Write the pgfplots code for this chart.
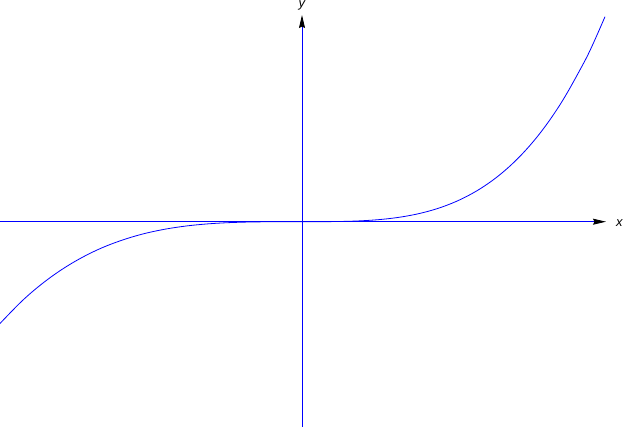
\documentclass[border=0pt]{standalone}
\usepackage{fontspec}
\setmainfont{Liberation Sans}
\usepackage{pgfplots}
\pgfplotsset{compat=1.18}
\usetikzlibrary{arrows.meta}
\begin{document}
\begin{tikzpicture}
\path[use as bounding box] (-302bp,-205.3bp) rectangle (322bp,221.7bp);
\begin{axis}[
  anchor=origin, at={(0,0)},
  x=100bp, y=100bp,
  xmin=-3.02, xmax=3.04, ymin=-2.053, ymax=2.067,
  axis lines=middle,
  xtick=\empty, ytick=\empty,
  axis line style={blue, line width=0.9bp},
  x axis line style={-{Stealth[length=13bp,width=6bp,inset=1.5bp,color=black]}},
  y axis line style={-{Stealth[length=13bp,width=6bp,inset=1.5bp,color=black]}},
  xlabel={\itshape x}, ylabel={\itshape y},
  x label style={at={(axis description cs:1.0165,0.4862)}, anchor=base west, inner sep=0pt, font=\fontsize{13}{15}\selectfont},
  y label style={at={(axis description cs:0.4983,1.010)}, anchor=south, inner sep=0pt, font=\fontsize{13}{15}\selectfont},
  clip=false,
]
\addplot[blue, line width=0.8bp, smooth, tension=0.6] coordinates {
(-3.02,-1.018) (-2.8,-0.793) (-2.6,-0.621) (-2.4,-0.477) (-2.2,-0.358)
(-2.0,-0.261) (-1.8,-0.185) (-1.6,-0.125) (-1.4,-0.0805) (-1.2,-0.0484)
(-1.0,-0.0265) (-0.8,-0.0127) (-0.6,-0.0049) (-0.4,-0.0013) (-0.2,-0.0002)
(0,0)
(0.2,0.0003) (0.4,0.0026) (0.6,0.0094) (0.8,0.0236) (1.0,0.0485)
(1.2,0.0881) (1.4,0.1467) (1.6,0.2292) (1.8,0.3408) (2.0,0.4874)
(2.2,0.6751) (2.4,0.9107) (2.6,1.2016) (2.8,1.5553) (2.9,1.755) (3.03,2.05)
};
\end{axis}
\end{tikzpicture}
\end{document}
